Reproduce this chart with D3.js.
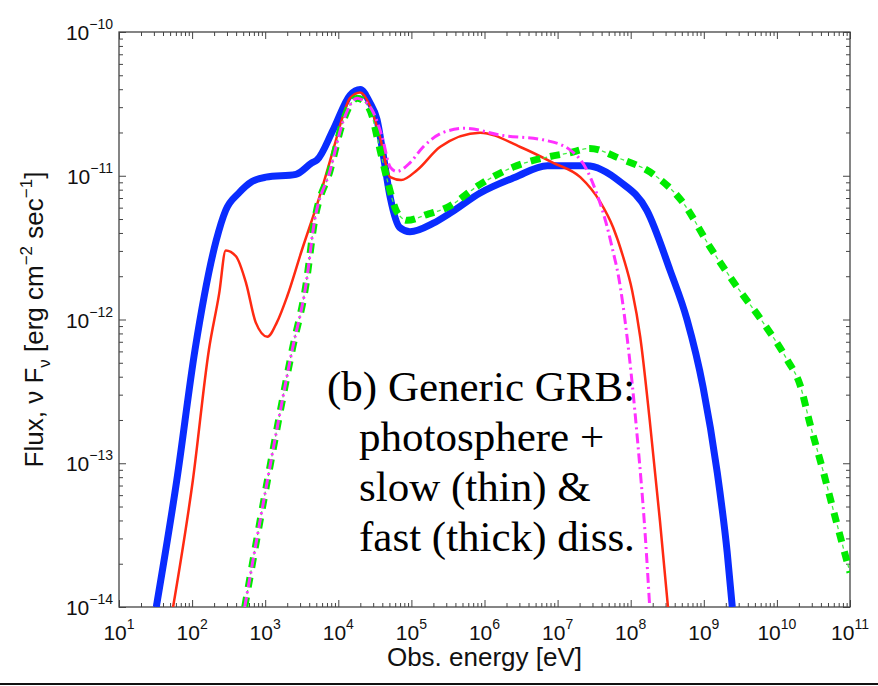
<!DOCTYPE html>
<html>
<head>
<meta charset="utf-8">
<script src="https://cdn.jsdelivr.net/npm/d3@7"></script>
<style>
    body { margin: 0; background: #fff; }
    svg { display: block; }
</style>
</head>
<body>
<svg id="chart" width="878" height="686"></svg>
<script>
// values, as log10(energy / eV) and log10(flux)
const blueLogE = [1.51, 1.79, 2.04, 2.33, 2.46, 2.64, 2.82, 3.01, 3.42, 3.64, 3.71, 3.93, 4.16, 4.30, 4.43, 4.53, 4.61, 4.71, 4.84, 4.98, 5.30, 5.53, 5.94, 6.42, 6.86, 7.40, 7.85, 8.22, 8.54, 8.77, 8.99, 9.18, 9.32, 9.39];
const blueLogF = [-14.0, -13.12, -12.21, -11.45, -11.24, -11.12, -11.04, -11.01, -10.99, -10.91, -10.89, -10.68, -10.44, -10.40, -10.49, -10.61, -10.84, -11.15, -11.36, -11.39, -11.33, -11.26, -11.12, -11.01, -10.93, -10.93, -11.04, -11.24, -11.66, -12.00, -12.47, -13.05, -13.62, -14.0];

const redLogE = [1.74, 2.01, 2.23, 2.37, 2.46, 2.60, 2.74, 2.87, 3.03, 3.16, 3.30, 3.50, 3.74, 3.93, 4.06, 4.16, 4.30, 4.43, 4.57, 4.71, 4.86, 5.08, 5.39, 5.94, 6.49, 6.94, 7.31, 7.58, 7.76, 7.90, 8.02, 8.13, 8.26, 8.40, 8.51];
const redLogF = [-14.0, -13.12, -12.21, -11.82, -11.52, -11.56, -11.75, -12.02, -12.12, -12.02, -11.84, -11.52, -11.15, -10.82, -10.59, -10.46, -10.42, -10.51, -10.73, -11.01, -11.03, -10.96, -10.80, -10.70, -10.80, -10.91, -11.01, -11.18, -11.36, -11.57, -11.80, -12.12, -12.70, -13.40, -14.0];

const magentaLogE = [2.72, 3.03, 3.37, 3.56, 3.67, 3.89, 4.06, 4.26, 4.32, 4.48, 4.60, 4.71, 4.80, 4.98, 5.16, 5.43, 5.73, 6.25, 6.80, 7.17, 7.40, 7.54, 7.68, 7.76, 7.83, 7.95, 8.09, 8.20, 8.26];
const magentaLogF = [-14.0, -13.12, -12.21, -11.75, -11.33, -10.96, -10.63, -10.46, -10.47, -10.56, -10.73, -10.94, -10.97, -10.91, -10.80, -10.70, -10.67, -10.72, -10.75, -10.82, -10.96, -11.13, -11.36, -11.53, -11.69, -12.12, -12.82, -13.51, -14.0];

const greenLogE = [2.72, 3.03, 3.37, 3.56, 3.67, 3.89, 4.06, 4.26, 4.32, 4.46, 4.53, 4.67, 4.80, 4.94, 5.21, 5.49, 5.94, 6.39, 6.86, 7.17, 7.44, 7.85, 8.31, 8.72, 9.09, 9.45, 9.81, 10.14, 10.32, 10.45, 10.63, 10.82, 11.0];
const greenLogF = [-14.0, -13.12, -12.21, -11.75, -11.33, -10.96, -10.63, -10.46, -10.47, -10.58, -10.73, -11.03, -11.25, -11.31, -11.27, -11.22, -11.06, -10.94, -10.87, -10.84, -10.81, -10.88, -10.99, -11.19, -11.50, -11.77, -12.02, -12.28, -12.46, -12.72, -13.05, -13.42, -13.76];

const xTickExps = [1, 2, 3, 4, 5, 6, 7, 8, 9, 10, 11];
const yTickExps = [-14, -13, -12, -11, -10];

const noteLines = ["(b) Generic GRB:", "photosphere +", "slow (thin) &", "fast (thick) diss."];

const toPoints = (le, lf) => le.map((v, i) => ({e: Math.pow(10, v), f: Math.pow(10, lf[i])}));

const plot = {left: 119, right: 850, top: 32, bottom: 607};
const sans = "'Liberation Sans', Arial, Helvetica, sans-serif";

const x = d3.scaleLog().domain([1e1, 1e11]).range([plot.left, plot.right]);
const y = d3.scaleLog().domain([1e-14, 1e-10]).range([plot.bottom, plot.top]);

const xMajor = xTickExps.map(p => Math.pow(10, p));
const yMajor = yTickExps.map(p => Math.pow(10, p));
const minorsOf = exps => d3.merge(exps.slice(0, -1).map(p => d3.range(2, 10).map(k => k * Math.pow(10, p))));
const xMinor = minorsOf(xTickExps);
const yMinor = minorsOf(yTickExps);

const svg = d3.select("#chart");

svg.append("defs").append("clipPath").attr("id", "plotClip")
    .append("rect")
    .attr("x", plot.left).attr("y", plot.top)
    .attr("width", plot.right - plot.left).attr("height", plot.bottom - plot.top);

// ticks on all four sides, pointing inward
const addTicks = (axis, tx, ty) => {
    const g = svg.append("g").attr("transform", `translate(${tx},${ty})`).call(axis);
    g.select(".domain").remove();
    g.selectAll("line").attr("stroke", "#444").attr("stroke-width", 1);
    return g;
};
[[xMajor, 7], [xMinor, 4]].forEach(([vals, len]) => {
    addTicks(d3.axisBottom(x).tickValues(vals).tickSize(-len).tickFormat(""), 0, plot.bottom);
    addTicks(d3.axisTop(x).tickValues(vals).tickSize(-len).tickFormat(""), 0, plot.top);
});
[[yMajor, 7], [yMinor, 4]].forEach(([vals, len]) => {
    addTicks(d3.axisLeft(y).tickValues(vals).tickSize(-len).tickFormat(""), plot.left, 0);
    addTicks(d3.axisRight(y).tickValues(vals).tickSize(-len).tickFormat(""), plot.right, 0);
});

svg.append("rect")
    .attr("x", plot.left).attr("y", plot.top)
    .attr("width", plot.right - plot.left).attr("height", plot.bottom - plot.top)
    .attr("fill", "none").attr("stroke", "#444").attr("stroke-width", 1.3);

// tick labels 10^n
const xLabels = svg.append("g").attr("font-family", sans).attr("fill", "#111");
xTickExps.forEach(p => {
    const t = xLabels.append("text")
        .attr("x", x(Math.pow(10, p))).attr("y", plot.bottom + 33)
        .attr("text-anchor", "middle").attr("font-size", 21);
    t.append("tspan").text("10");
    t.append("tspan").attr("dy", -11).attr("font-size", 14).text(p);
});
const yLabels = svg.append("g").attr("font-family", sans).attr("fill", "#111");
yTickExps.forEach(p => {
    const t = yLabels.append("text")
        .attr("x", plot.left - 6).attr("y", y(Math.pow(10, p)) + 8)
        .attr("text-anchor", "end").attr("font-size", 21);
    t.append("tspan").text("10");
    t.append("tspan").attr("dy", -11).attr("font-size", 14).text("\u2212" + Math.abs(p));
});

svg.append("text")
    .attr("x", (plot.left + plot.right) / 2).attr("y", 666)
    .attr("text-anchor", "middle").attr("font-family", sans).attr("font-size", 26)
    .attr("fill", "#111")
    .text("Obs. energy [eV]");

const yTitle = svg.append("text")
    .attr("transform", `translate(43,${(plot.top + plot.bottom) / 2}) rotate(-90)`)
    .attr("text-anchor", "middle").attr("font-family", sans).attr("font-size", 26)
    .attr("fill", "#111");
yTitle.append("tspan").text("Flux, \u03bd F");
yTitle.append("tspan").attr("dy", 7).attr("font-size", 17).text("\u03bd");
yTitle.append("tspan").attr("dy", -7).text(" [erg cm");
yTitle.append("tspan").attr("dy", -11).attr("font-size", 17).text("\u22122");
yTitle.append("tspan").attr("dy", 11).text(" sec");
yTitle.append("tspan").attr("dy", -11).attr("font-size", 17).text("\u22121");
yTitle.append("tspan").attr("dy", 11).text("]");

// spectra
const line = d3.line()
    .x(d => x(d.e))
    .y(d => y(d.f))
    .curve(d3.curveMonotoneX);

const curves = svg.append("g").attr("clip-path", "url(#plotClip)")
    .attr("fill", "none").attr("stroke-linejoin", "round");

curves.append("path")
    .attr("d", line(toPoints(blueLogE, blueLogF)))
    .attr("stroke", "#0a2cff").attr("stroke-width", 7);

curves.append("path")
    .attr("d", line(toPoints(redLogE, redLogF)))
    .attr("stroke", "#ff2a12").attr("stroke-width", 2.5);

const greenPath = line(toPoints(greenLogE, greenLogF));
curves.append("path")
    .attr("d", greenPath)
    .attr("stroke", "#00ea00").attr("stroke-width", 7)
    .attr("stroke-dasharray", "10,10");
curves.append("path")
    .attr("d", greenPath)
    .attr("stroke", "#44ee44").attr("stroke-width", 1.3)
    .attr("stroke-dasharray", "0,13,4,3");

curves.append("path")
    .attr("d", line(toPoints(magentaLogE, magentaLogF)))
    .attr("stroke", "#ff30ff").attr("stroke-width", 3)
    .attr("stroke-dasharray", "10,4,2,4");

// annotation
const note = svg.append("g")
    .attr("font-family", "'Liberation Serif', 'Times New Roman', Times, serif")
    .attr("font-size", 43).attr("fill", "#000");
noteLines.forEach((s, i) => {
    note.append("text")
        .attr("x", i === 0 ? 327 : 359)
        .attr("y", 401 + i * 50)
        .text(s);
});

svg.append("line")
    .attr("x1", 0).attr("x2", 878).attr("y1", 684).attr("y2", 684)
    .attr("stroke", "#111").attr("stroke-width", 2);
</script>
</body>
</html>
